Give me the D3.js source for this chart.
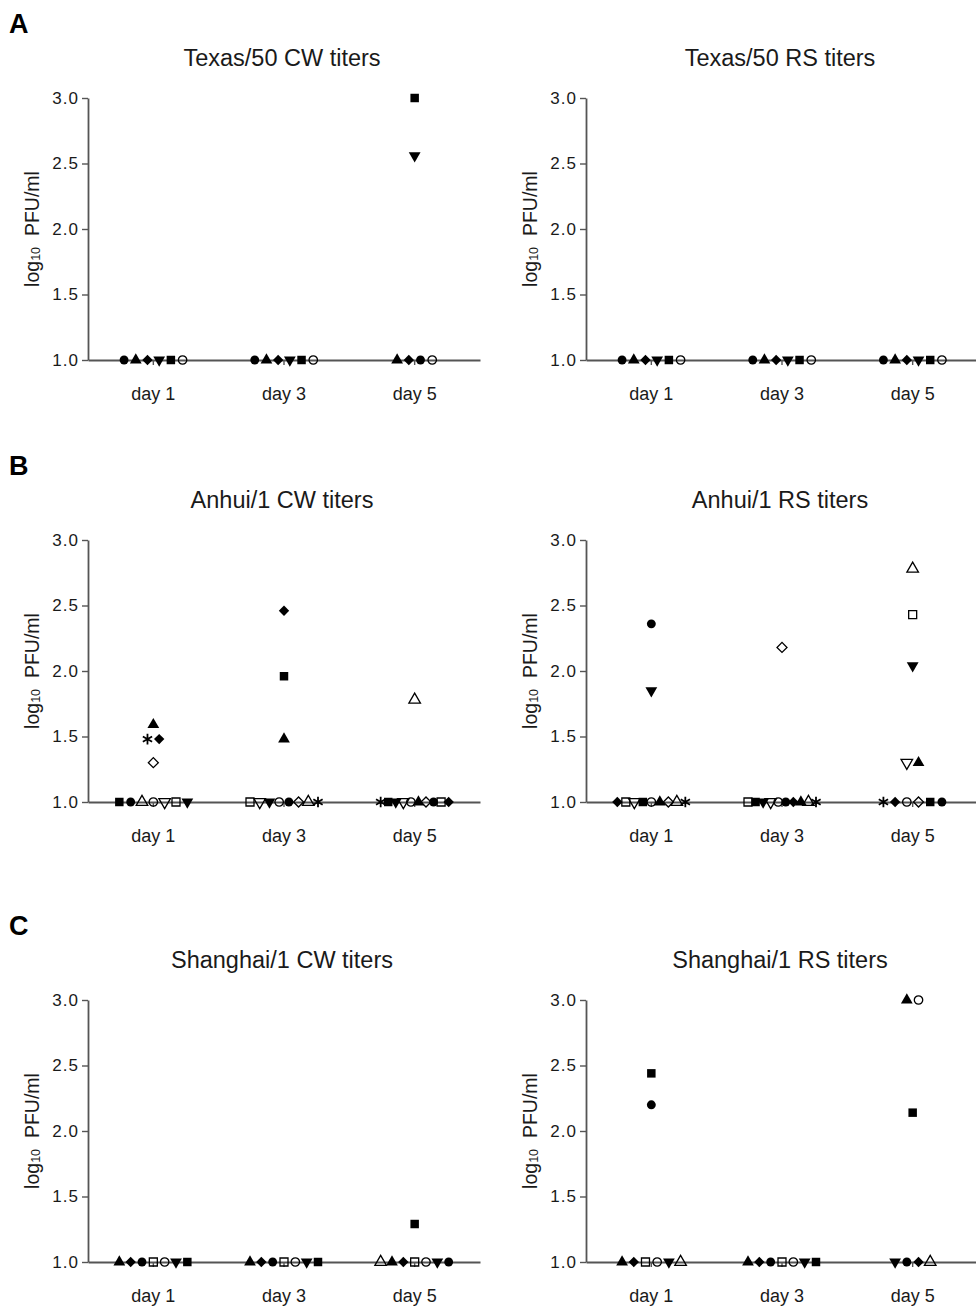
<!DOCTYPE html>
<html>
<head>
<meta charset="utf-8">
<script src="https://cdn.jsdelivr.net/npm/d3@7"></script>
<style>
  body { margin: 0; background: #fff; }
  svg { display: block; font-family: "Liberation Sans", Arial, sans-serif; }
</style>
</head>
<body>
<main><div id="svg-container"></div></main>
<script>

const days = ["day 1", "day 3", "day 5"];
const yTicks = [1.0, 1.5, 2.0, 2.5, 3.0];
const panelLetters = ["A", "B", "C"];
const panelTitles = [
  "Texas/50 CW titers", "Texas/50 RS titers",
  "Anhui/1 CW titers", "Anhui/1 RS titers",
  "Shanghai/1 CW titers", "Shanghai/1 RS titers"
];

// [day, symbol, log10 PFU/ml] -- points on the same value are spread sideways in listed order
const texasCW = [
  ["day 1", "circle", 1], ["day 1", "triangle", 1], ["day 1", "diamond", 1], ["day 1", "triangleDown", 1], ["day 1", "square", 1], ["day 1", "circleOpen", 1],
  ["day 3", "circle", 1], ["day 3", "triangle", 1], ["day 3", "diamond", 1], ["day 3", "triangleDown", 1], ["day 3", "square", 1], ["day 3", "circleOpen", 1],
  ["day 5", "square", 3.0], ["day 5", "triangleDown", 2.56],
  ["day 5", "triangle", 1], ["day 5", "diamond", 1], ["day 5", "circle", 1], ["day 5", "circleOpen", 1]
];

const texasRS = [
  ["day 1", "circle", 1], ["day 1", "triangle", 1], ["day 1", "diamond", 1], ["day 1", "triangleDown", 1], ["day 1", "square", 1], ["day 1", "circleOpen", 1],
  ["day 3", "circle", 1], ["day 3", "triangle", 1], ["day 3", "diamond", 1], ["day 3", "triangleDown", 1], ["day 3", "square", 1], ["day 3", "circleOpen", 1],
  ["day 5", "circle", 1], ["day 5", "triangle", 1], ["day 5", "diamond", 1], ["day 5", "triangleDown", 1], ["day 5", "square", 1], ["day 5", "circleOpen", 1]
];

const anhuiCW = [
  ["day 1", "triangle", 1.59], ["day 1", "asterisk", 1.48], ["day 1", "diamond", 1.48], ["day 1", "diamondOpen", 1.30],
  ["day 1", "square", 1], ["day 1", "circle", 1], ["day 1", "triangleOpen", 1], ["day 1", "circleOpen", 1],
  ["day 1", "triangleDownOpen", 1], ["day 1", "squareOpen", 1], ["day 1", "triangleDown", 1],
  ["day 3", "diamond", 2.46], ["day 3", "square", 1.96], ["day 3", "triangle", 1.48],
  ["day 3", "squareOpen", 1], ["day 3", "triangleDownOpen", 1], ["day 3", "triangleDown", 1], ["day 3", "circleOpen", 1],
  ["day 3", "circle", 1], ["day 3", "diamondOpen", 1], ["day 3", "triangleOpen", 1], ["day 3", "asterisk", 1],
  ["day 5", "triangleOpen", 1.78],
  ["day 5", "asterisk", 1], ["day 5", "square", 1], ["day 5", "triangleDown", 1], ["day 5", "triangleDownOpen", 1], ["day 5", "circleOpen", 1],
  ["day 5", "triangle", 1], ["day 5", "diamondOpen", 1], ["day 5", "circle", 1], ["day 5", "squareOpen", 1], ["day 5", "diamond", 1]
];

const anhuiRS = [
  ["day 1", "circle", 2.36], ["day 1", "triangleDown", 1.85],
  ["day 1", "diamond", 1], ["day 1", "squareOpen", 1], ["day 1", "triangleDownOpen", 1], ["day 1", "square", 1], ["day 1", "circleOpen", 1],
  ["day 1", "triangle", 1], ["day 1", "diamondOpen", 1], ["day 1", "triangleOpen", 1], ["day 1", "asterisk", 1],
  ["day 3", "diamondOpen", 2.18],
  ["day 3", "squareOpen", 1], ["day 3", "square", 1], ["day 3", "triangleDown", 1], ["day 3", "triangleDownOpen", 1], ["day 3", "circleOpen", 1],
  ["day 3", "circle", 1], ["day 3", "diamond", 1], ["day 3", "triangle", 1], ["day 3", "triangleOpen", 1], ["day 3", "asterisk", 1],
  ["day 5", "triangleOpen", 2.78], ["day 5", "squareOpen", 2.43], ["day 5", "triangleDown", 2.04],
  ["day 5", "triangleDownOpen", 1.30], ["day 5", "triangle", 1.30],
  ["day 5", "asterisk", 1], ["day 5", "diamond", 1], ["day 5", "circleOpen", 1], ["day 5", "diamondOpen", 1], ["day 5", "square", 1], ["day 5", "circle", 1]
];

const shanghaiCW = [
  ["day 1", "triangle", 1], ["day 1", "diamond", 1], ["day 1", "circle", 1], ["day 1", "squareOpen", 1],
  ["day 1", "circleOpen", 1], ["day 1", "triangleDown", 1], ["day 1", "square", 1],
  ["day 3", "triangle", 1], ["day 3", "diamond", 1], ["day 3", "circle", 1], ["day 3", "squareOpen", 1],
  ["day 3", "circleOpen", 1], ["day 3", "triangleDown", 1], ["day 3", "square", 1],
  ["day 5", "square", 1.29],
  ["day 5", "triangleOpen", 1], ["day 5", "triangle", 1], ["day 5", "diamond", 1], ["day 5", "squareOpen", 1],
  ["day 5", "circleOpen", 1], ["day 5", "triangleDown", 1], ["day 5", "circle", 1]
];

const shanghaiRS = [
  ["day 1", "square", 2.44], ["day 1", "circle", 2.20],
  ["day 1", "triangle", 1], ["day 1", "diamond", 1], ["day 1", "squareOpen", 1], ["day 1", "circleOpen", 1],
  ["day 1", "triangleDown", 1], ["day 1", "triangleOpen", 1],
  ["day 3", "triangle", 1], ["day 3", "diamond", 1], ["day 3", "circle", 1], ["day 3", "squareOpen", 1],
  ["day 3", "circleOpen", 1], ["day 3", "triangleDown", 1], ["day 3", "square", 1],
  ["day 5", "triangle", 3.0], ["day 5", "circleOpen", 3.0], ["day 5", "square", 2.14],
  ["day 5", "triangleDown", 1], ["day 5", "circle", 1], ["day 5", "diamond", 1], ["day 5", "triangleOpen", 1]
];

const panelData = [texasCW, texasRS, anhuiCW, anhuiRS, shanghaiCW, shanghaiRS];

/** Layout */
const svgProps = {};
  svgProps.width = 976;
  svgProps.height = 1308;
  svgProps.colX = [88, 586];        // y axis position of left / right column
  svgProps.rowTop = [98, 540, 1000]; // pixel of 3.0 in each row
  svgProps.plotWidth = 392;
  svgProps.plotHeight = 262;
  svgProps.markerGap = 11.7;
  svgProps.maxSpread = 68;
  svgProps.axisColor = "#555";
  svgProps.textColor = "#1a1a1a";

/** Marker shapes: [d3 symbol, size, rotation, filled] */
const markerDefs = {
  circle:           [d3.symbolCircle, 62, 0, true],
  triangle:         [d3.symbolTriangle, 60, 0, true],
  diamond:          [d3.symbolSquare, 54, 45, true],
  triangleDown:     [d3.symbolTriangle, 60, 180, true],
  square:           [d3.symbolSquare, 72, 0, true],
  circleOpen:       [d3.symbolCircle, 56, 0, false],
  triangleOpen:     [d3.symbolTriangle, 58, 0, false],
  diamondOpen:      [d3.symbolSquare, 50, 45, false],
  triangleDownOpen: [d3.symbolTriangle, 58, 180, false],
  squareOpen:       [d3.symbolSquare, 64, 0, false],
  asterisk:         [d3.symbolAsterisk, 80, 0, false]
};

const svg = d3.select("main div#svg-container")
  .append("svg")
  .attr("width", svgProps.width)
  .attr("height", svgProps.height)
;

/** Panel letters */
panelLetters.forEach(function(letter, r) {
  svg.append("text")
    .attr("x", 9)
    .attr("y", svgProps.rowTop[r] - 65)
    .attr("font-size", 27)
    .attr("font-weight", "bold")
    .attr("fill", "#000")
    .text(letter)
  ;
});

panelData.forEach(function(rows, i) {
  const row = Math.floor(i / 2), col = i % 2;
  const x0 = svgProps.colX[col], yTop = svgProps.rowTop[row];

  const x = d3.scaleBand()
    .domain(days)
    .range([0, svgProps.plotWidth])
    .padding(0)
  ;
  const y = d3.scaleLinear()
    .domain([1, 3])
    .range([svgProps.plotHeight, 0])
  ;

  const g = svg.append("g")
    .attr("transform", "translate(" + x0 + "," + yTop + ")")
  ;

  // title
  g.append("text")
    .attr("x", svgProps.plotWidth / 2 - 2)
    .attr("y", -32)
    .attr("text-anchor", "middle")
    .attr("font-size", 23.5)
    .attr("fill", svgProps.textColor)
    .text(panelTitles[i])
  ;

  // y axis
  const yAxis = g.append("g")
    .call(d3.axisLeft(y).tickValues(yTicks).tickFormat(d3.format(".1f")).tickSize(6).tickSizeOuter(0).tickPadding(3))
  ;
  yAxis.selectAll("text")
    .attr("font-size", 17)
    .attr("letter-spacing", 1)
    .attr("fill", svgProps.textColor)
  ;

  // x axis
  const xAxis = g.append("g")
    .attr("transform", "translate(0," + svgProps.plotHeight + ")")
    .call(d3.axisBottom(x).tickSize(5).tickSizeOuter(0).tickPadding(22))
  ;
  xAxis.selectAll("text")
    .attr("font-size", 18)
    .attr("fill", svgProps.textColor)
  ;

  [yAxis, xAxis].forEach(function(ax) {
    ax.select(".domain").attr("stroke", svgProps.axisColor).attr("stroke-width", 1.8);
    ax.selectAll(".tick line").attr("stroke", svgProps.axisColor).attr("stroke-width", 1.4);
  });

  // y axis label
  const label = g.append("text")
    .attr("transform", "translate(-49," + (svgProps.plotHeight / 2) + ") rotate(-90)")
    .attr("text-anchor", "middle")
    .attr("font-size", 19.5)
    .attr("fill", svgProps.textColor)
  ;
  label.append("tspan").text("log");
  label.append("tspan").attr("font-size", 12.5).attr("dy", 1).text("10");
  label.append("tspan").attr("dy", -1).text("\u00a0\u00a0PFU/ml");

  /** Points, spread sideways when several share a value */
  const points = rows.map(d => ({ day: d[0], sym: d[1], val: d[2] }));
  d3.group(points, d => d.day, d => d.val).forEach(function(byVal) {
    byVal.forEach(function(list) {
      const n = list.length;
      const step = n > 1 ? Math.min(svgProps.markerGap, svgProps.maxSpread / (n - 1)) : 0;
      list.forEach((p, k) => { p.dx = (k - (n - 1) / 2) * step; });
    });
  });

  g.append("g")
    .selectAll("path")
    .data(points)
    .enter()
    .append("path")
    .attr("d", d => d3.symbol().type(markerDefs[d.sym][0]).size(markerDefs[d.sym][1])())
    .attr("transform", d => "translate(" + (x(d.day) + x.bandwidth() / 2 + d.dx) + "," + y(d.val) + ") rotate(" + markerDefs[d.sym][2] + ")")
    .attr("fill", d => markerDefs[d.sym][3] ? "#000" : "none")
    .attr("stroke", d => markerDefs[d.sym][3] ? "none" : "#000")
    .attr("stroke-width", d => d.sym === "asterisk" ? 1.8 : 1.3)
  ;
});

</script>
</body>
</html>
